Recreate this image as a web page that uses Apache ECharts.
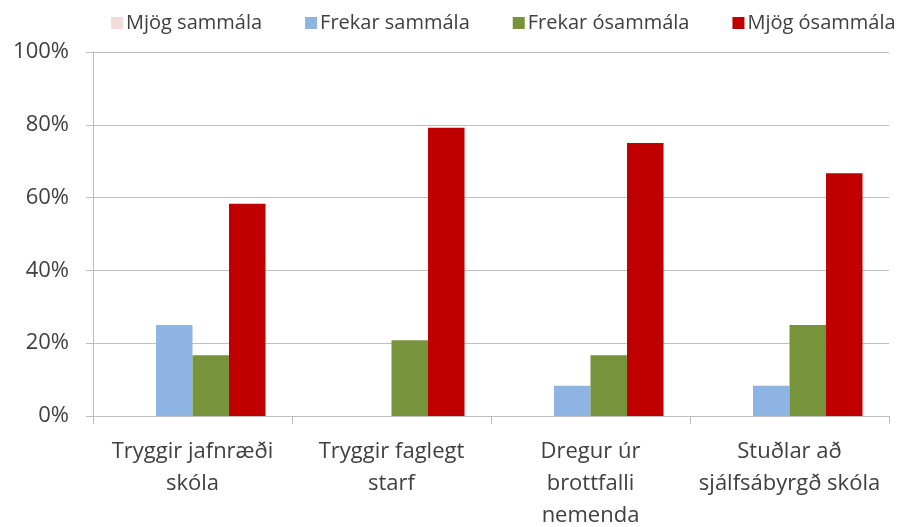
<!DOCTYPE html>
<html>
<head>
<meta charset="utf-8">
<script src="https://cdn.jsdelivr.net/npm/echarts@6/dist/echarts.min.js"></script>
<style>
html, body { margin: 0; padding: 0; background: #fff; }
#main { width: 903px; height: 527px; }
</style>
</head>
<body>
<div id="main"></div>
<script>
var categories = ['Tryggir jafnræði\nskóla', 'Tryggir faglegt\nstarf', 'Dregur úr\nbrottfalli\nnemenda', 'Stuðlar að\nsjálfsábyrgð skóla'];
var seriesNames = ['Mjög sammála', 'Frekar sammála', 'Frekar ósammála', 'Mjög ósammála'];
var mjogSammala = [0, 0, 0, 0];
var frekarSammala = [25, 0, 8.3, 8.3];
var frekarOsammala = [16.7, 20.8, 16.7, 25];
var mjogOsammala = [58.3, 79.2, 75, 66.7];
var colors = ['#F2DCDB', '#8DB4E2', '#77933C', '#C00000'];

var font = '"Open Sans", "Noto Sans", sans-serif';
var values = [mjogSammala, frekarSammala, frekarOsammala, mjogOsammala];

var myChart = echarts.init(document.getElementById('main'));
var option = {
    animation: false,
    color: colors,
    legend: {
        top: 8,
        left: 106,
        itemWidth: 12,
        itemHeight: 12,
        itemGap: 43,
        icon: 'rect',
        textStyle: { fontFamily: font, fontSize: 20, color: '#404040', padding: [0, 0, 0, -2] },
        data: seriesNames
    },
    grid: { left: 93, right: 14, top: 52, bottom: 111, containLabel: false, outerBoundsMode: 'none' },
    xAxis: {
        type: 'category',
        data: categories,
        axisLine: { lineStyle: { color: '#BFBFBF', width: 1 } },
        axisTick: { show: true, length: 8, lineStyle: { color: '#BFBFBF' } },
        axisLabel: {
            fontFamily: font, fontSize: 22, color: '#404040',
            lineHeight: 32, margin: 20, interval: 0
        }
    },
    yAxis: {
        type: 'value',
        min: 0,
        max: 100,
        interval: 20,
        axisLine: { show: true, lineStyle: { color: '#BFBFBF', width: 1 } },
        axisTick: { show: true, length: 7, lineStyle: { color: '#BFBFBF' } },
        splitLine: { lineStyle: { color: '#BFBFBF', width: 1 } },
        axisLabel: {
            fontFamily: font, fontSize: 22, color: '#404040', margin: 24,
            formatter: '{value}%'
        }
    },
    series: seriesNames.map(function (name, i) {
        return {
            name: name,
            type: 'bar',
            data: values[i],
            barGap: '0%',
            barCategoryGap: '26.6%'
        };
    })
};
myChart.setOption(option);
</script>
</body>
</html>
